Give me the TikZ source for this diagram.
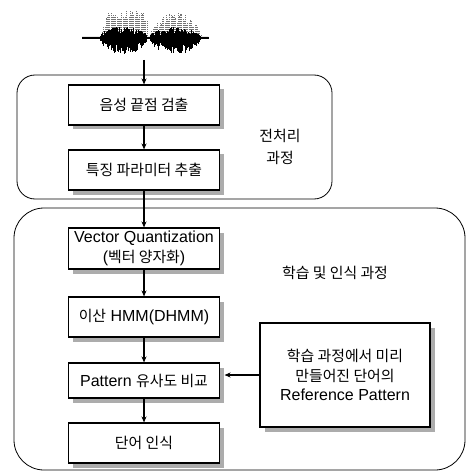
\documentclass[tikz,border=0pt]{standalone}
\usepackage{fontspec}
\setmainfont{Liberation Sans}
\newfontfamily\kr[Scale=0.93]{Noto Sans CJK KR}
\usetikzlibrary{arrows.meta,shadows}
\begin{document}
\begin{tikzpicture}[x=1pt,y=-1pt,
  every node/.style={font=\fontsize{16}{20}\selectfont},
  pbox/.style={draw, line width=1.1pt, fill=white, minimum width=151pt, align=center, inner sep=0pt,
    drop shadow={shadow xshift=4.5pt, shadow yshift=-4.5pt, fill=gray!65, opacity=1}},
  region/.style={draw, line width=0.8pt},
  arr/.style={line width=1.1pt, -{Stealth[length=6pt,width=5pt]}},
  lbl/.style={align=center, font=\fontsize{16}{22}\selectfont}]
\useasboundingbox (0,0) rectangle (468,473);
% regions
\draw[region, rounded corners=18pt] (17,75) rectangle (332,199);
\draw[region, rounded corners=30pt] (14,208) rectangle (465,470);
% waveform
\pgfmathsetseed{7}
\foreach \i in {0,...,84}{
  \pgfmathsetmacro\x{100+\i*1.2}
  \pgfmathsetmacro\sa{max(0.001,sin(max(0,min(1,(\x-100)/10))*90))*(0.8+0.2*max(0,sin((\x-100)/47*180)))}
  \pgfmathsetmacro\sb{max(0.001,sin((\x-150)/51*180))^0.5}
  \pgfmathsetmacro\g{(\x<147.5) ? (\x>100 ? 30*\sa : 0) : (\x>150 ? 26*\sb : 0)}
  \pgfmathsetmacro\h{\g*(0.6+0.4*rnd)}
  \draw[black!55, line width=0.6pt, dash pattern=on 1.2pt off 0.8pt] (\x,38) -- (\x,38-\h);
}
\foreach \i in {0,...,252}{
  \pgfmathsetmacro\x{82+\i*0.5}
  \pgfmathsetmacro\ea{max(0.001,sin((\x-100)/47*180))^0.5}
  \pgfmathsetmacro\eb{max(0.001,sin((\x-150)/51*180))^0.5}
  \pgfmathsetmacro\e{(\x>100 && \x<147) ? \ea : ((\x>150 && \x<201) ? \eb : 0)}
  \pgfmathsetmacro\u{1.3+10*\e*(0.2+0.8*rnd)}
  \pgfmathsetmacro\d{1.3+15*\e*(0.2+0.8*rnd)}
  \draw[line width=0.45pt] (\x,38-\u) -- (\x,38+\d);
}
\coordinate (w) at (144,60);
% boxes
\node[pbox, minimum height=40pt] (b1) at (144,105) {{\kr 음성 끝점 검출}};
\node[pbox, minimum height=40pt] (b2) at (144,170) {{\kr 특징 파라미터 추출}};
\node[pbox, minimum height=41pt] (vq) at (144,248.5) {Vector Quantization\\({\kr 벡터 양자화})};
\node[pbox, minimum height=40pt] (hm) at (144,317) {{\kr 이산} HMM(DHMM)};
\node[pbox, minimum height=35pt] (pt) at (144,380.5) {Pattern {\kr 유사도 비교}};
\node[pbox, minimum height=40pt] (wd) at (144,443) {{\kr 단어 인식}};
\node[pbox, minimum width=170pt, minimum height=104pt, font=\fontsize{16}{19.5}\selectfont] (rf) at (345,375)
  {{\kr 학습 과정에서 미리}\\{\kr 만들어진 단어의}\\Reference Pattern};
% labels
\node[lbl] (l1) at (280,147) {{\kr 전처리}\\{\kr 과정}};
\node[lbl] (l2) at (335,273) {{\kr 학습 및 인식 과정}};
% connectors
\draw[arr] (w) -- (b1.north);
\draw[arr] (b1.south) -- (b2.north);
\draw[arr] (b2.south) -- (vq.north);
\draw[arr] (vq.south) -- (hm.north);
\draw[arr] (hm.south) -- (pt.north);
\draw[arr] (pt.south) -- (wd.north);
\draw[arr] (rf.west) -- ([xshift=4.5pt]rf.west -| pt.east);
\end{tikzpicture}
\end{document}
